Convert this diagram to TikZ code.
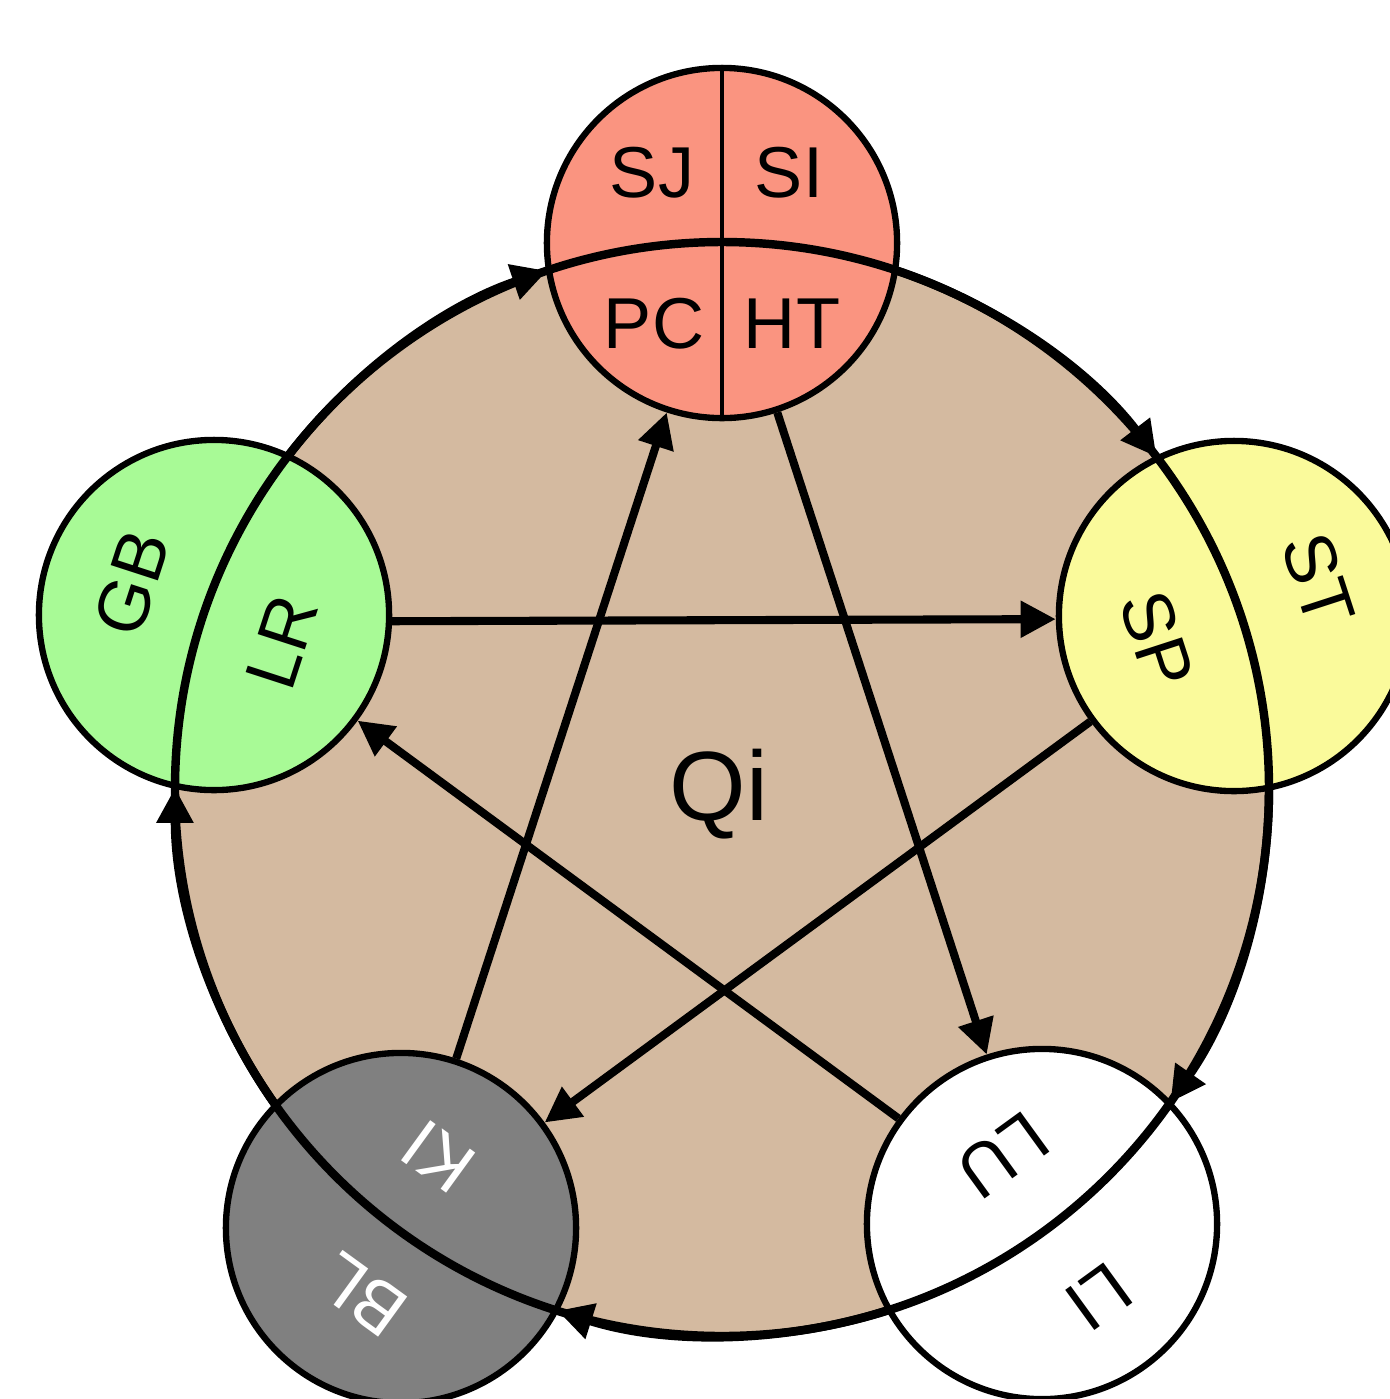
\documentclass[tikz,border=0pt]{standalone}
\usepackage{fontspec}
\setmainfont{Liberation Sans}
\usetikzlibrary{arrows.meta}
\definecolor{firec}{RGB}{250,148,128}
\definecolor{earthc}{RGB}{250,250,155}
\definecolor{woodc}{RGB}{168,250,150}
\definecolor{waterc}{RGB}{128,128,128}
\definecolor{qic}{RGB}{212,186,160}
\begin{document}
\begin{tikzpicture}[x=0.01cm,y=0.01cm,
  phase/.style={circle, draw=black, line width=1.8pt, minimum size=3.5cm, inner sep=0pt},
  lbl/.style={inner sep=0pt, font=\fontsize{20.5}{24}\selectfont},
  cyc/.style={line width=2.4pt},
  tipc/.style={-{Triangle[length=10pt,width=10pt]}},
  star/.style={line width=2.3pt, -{Triangle[length=10pt,width=10pt]}},
  divline/.style={line width=0.9pt}]
\useasboundingbox (0,0) rectangle (1390,-1399);
\clip (0,0) rectangle (1390,-1399);
\coordinate (qc) at (722,-789);
\fill[qic] (qc) circle[radius=547];
% phases
\node[phase, fill=firec] (fire) at (722,-243) {};
\node[phase, fill=earthc] (earth) at (1234,-616) {};
\node[phase, fill=white] (metal) at (1042,-1224) {};
\node[phase, fill=waterc] (water) at (401,-1228) {};
\node[phase, fill=woodc] (wood) at (214,-615) {};
% generating cycle line
\draw[cyc] (qc) circle[radius=547];
\draw[divline] (fire.north) -- (fire.south);
% generating cycle arrows
\draw[cyc,tipc] (qc) ++(71.35:547) arc[start angle=71.35, end angle=37.4, radius=547];
\draw[cyc,tipc] (qc) ++(-0.05:547) arc[start angle=-0.05, end angle=-34.93, radius=547];
\draw[cyc,tipc] (qc) ++(-72.39:547) arc[start angle=-72.39, end angle=-107.5, radius=547];
\draw[cyc,tipc] (qc) ++(-144.84:547) arc[start angle=-144.84, end angle=-180.13, radius=547];
\draw[cyc,tipc] (qc) ++(142.33:547) arc[start angle=142.33, end angle=108.65, radius=547];
% controlling cycle
\draw[star] (fire) -- (metal);
\draw[star] (earth) -- (water);
\draw[star] (metal) -- (wood);
\draw[star] (water) -- (fire);
\draw[star] (wood.-2) -- (earth.181);
% labels
\node[lbl] (sj) at (652,-173) {SJ};
\node[lbl] (si) at (789,-173) {SI};
\node[lbl] (pc) at (654,-324) {PC};
\node[lbl] (ht) at (792,-324) {HT};
\node[lbl, rotate=-72] (sp) at (1157,-640) {SP};
\node[lbl, rotate=-72] (st) at (1318,-580) {ST};
\node[lbl, rotate=72] (gb) at (132,-583) {GB};
\node[lbl, rotate=72] (lr) at (282,-642) {LR};
\node[lbl, rotate=-144] (lu) at (1003,-1155) {LU};
\node[lbl, rotate=-144] (li) at (1099,-1297) {LI};
\node[lbl, rotate=144, text=white] (ki) at (438,-1157) {KI};
\node[lbl, rotate=144, text=white] (bl) at (362,-1295) {BL};
\node[lbl, font=\fontsize{28}{32}\selectfont] (qi) at (719,-794) {Qi};
\end{tikzpicture}
\end{document}
